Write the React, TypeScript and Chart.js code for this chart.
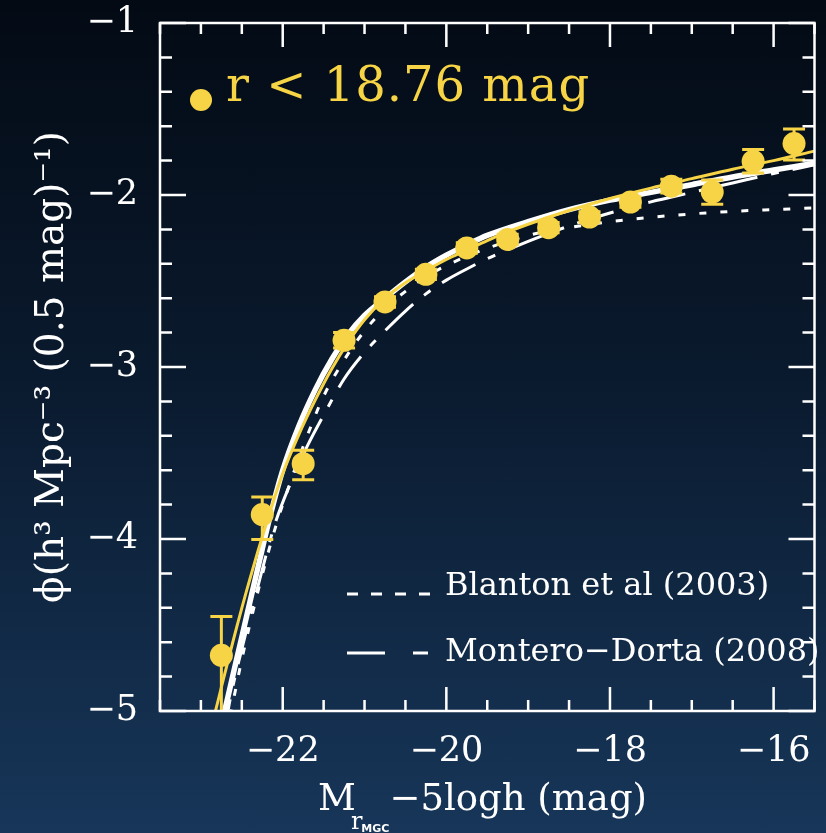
import React, { useEffect, useRef } from 'react';
import { Chart, registerables } from 'chart.js';

Chart.register(...registerables);

const YELLOW = '#f6d445';
const WHITE = '#ffffff';
const FONT = '"DejaVu Serif", serif';

// observed luminosity function (0.5 mag bins)
const binMags = [-22.75, -22.25, -21.75, -21.25, -20.75, -20.25, -19.75, -19.25, -18.75, -18.25, -17.75, -17.25, -16.75, -16.25, -15.75];
const binPhi = [-4.676, -3.858, -3.562, -2.845, -2.622, -2.461, -2.308, -2.258, -2.19, -2.128, -2.041, -1.949, -1.983, -1.804, -1.701];
const errUp = [0.226, 0.102, 0.078, 0.045, 0.03, 0.03, 0.03, 0.03, 0.03, 0.03, 0.03, 0.04, 0.07, 0.068, 0.085];
const errDown = [0.6, 0.145, 0.093, 0.045, 0.03, 0.03, 0.03, 0.03, 0.03, 0.03, 0.03, 0.04, 0.071, 0.068, 0.095];

// yellow fit
const fitMags = [-22.9, -22.78, -22.6, -22.4, -22.2, -22.0, -21.8, -21.6, -21.4, -21.2, -21.0, -20.75, -20.5, -20.25, -20.0, -19.75, -19.5, -19.25, -19.0, -18.5, -18.0, -17.5, -17.0, -16.5, -16.0, -15.5];
const fitPhi = [-5.15, -4.92, -4.58, -4.23, -3.91, -3.62, -3.39, -3.19, -3.01, -2.855, -2.725, -2.6, -2.51, -2.44, -2.375, -2.32, -2.265, -2.215, -2.17, -2.09, -2.02, -1.96, -1.905, -1.85, -1.8, -1.745];

// white solid
const solidMags = [-22.8, -22.7, -22.5, -22.3, -22.15, -22.0, -21.8, -21.6, -21.4, -21.2, -21.0, -20.75, -20.5, -20.25, -20.0, -19.75, -19.5, -19.0, -18.5, -18.0, -17.5, -17.0, -16.5, -16.0, -15.5];
const solidPhi = [-5.19, -4.98, -4.57, -4.16, -3.86, -3.6, -3.34, -3.13, -2.955, -2.81, -2.7, -2.6, -2.505, -2.42, -2.35, -2.29, -2.235, -2.155, -2.085, -2.03, -1.985, -1.94, -1.895, -1.855, -1.815];

// Blanton et al (2003)
const blantonMags = [-22.7, -22.6, -22.5, -22.3, -22.1, -21.9, -21.7, -21.5, -21.25, -21.0, -20.75, -20.5, -20.25, -20.0, -19.5, -19.0, -18.5, -18.0, -17.5, -17.0, -16.5, -16.0, -15.5];
const blantonPhi = [-5.15, -4.93, -4.7, -4.3, -3.95, -3.66, -3.4, -3.17, -2.96, -2.79, -2.66, -2.56, -2.475, -2.41, -2.31, -2.235, -2.19, -2.155, -2.13, -2.11, -2.095, -2.085, -2.075];

// Montero-Dorta (2008)
const monteroMags = [-22.72, -22.65, -22.5, -22.3, -22.1, -21.9, -21.7, -21.5, -21.25, -21.0, -20.75, -20.5, -20.25, -20.0, -19.75, -19.5, -19.0, -18.5, -18.0, -17.5, -17.0, -16.5, -16.0, -15.5];
const monteroPhi = [-5.15, -4.95, -4.64, -4.27, -3.92, -3.67, -3.46, -3.28, -3.07, -2.915, -2.79, -2.675, -2.575, -2.495, -2.43, -2.37, -2.27, -2.18, -2.105, -2.04, -1.985, -1.93, -1.875, -1.825];

const xTickValues = [-22, -20, -18, -16];
const yTickValues = [-5, -4, -3, -2, -1];
const X_MIN = -23.5;
const X_MAX = -15.5;
const Y_MIN = -5;
const Y_MAX = -1;

const toXY = (xs: number[], ys: number[]) => xs.map((x, i) => ({ x, y: ys[i] }));
const fmt = (v: number) => (v < 0 ? '\u2212' + Math.abs(v) : String(v));

const decorPlugin = {
  id: 'decor',
  beforeDatasetDraw(chart: any, args: any) {
    if (args.index !== 0) return;
    const { ctx, chartArea: a, scales } = chart;
    const xs = scales.x;
    const ys = scales.y;
    ctx.save();
    ctx.beginPath();
    ctx.rect(a.left, a.top, a.right - a.left, a.bottom - a.top);
    ctx.clip();
    ctx.strokeStyle = YELLOW;
    ctx.lineWidth = 3;
    ctx.beginPath();
    binMags.forEach((m, i) => {
      const px = xs.getPixelForValue(m);
      const top = ys.getPixelForValue(binPhi[i] + errUp[i]);
      const bot = ys.getPixelForValue(binPhi[i] - errDown[i]);
      ctx.moveTo(px, top);
      ctx.lineTo(px, bot);
      ctx.moveTo(px - 11, top);
      ctx.lineTo(px + 11, top);
      ctx.moveTo(px - 11, bot);
      ctx.lineTo(px + 11, bot);
    });
    ctx.stroke();
    ctx.restore();
  },
  afterDraw(chart: any) {
    const { ctx, chartArea: a, scales } = chart;
    const xs = scales.x;
    const ys = scales.y;
    ctx.save();
    // frame
    ctx.strokeStyle = WHITE;
    ctx.lineWidth = 2.5;
    ctx.strokeRect(a.left, a.top, a.right - a.left, a.bottom - a.top);
    ctx.beginPath();
    const nx = Math.round((X_MAX - X_MIN) / 0.5);
    for (let k = 0; k <= nx; k++) {
      const v = X_MIN + k * 0.5;
      const major = xTickValues.some((t) => Math.abs(t - v) < 1e-6);
      const len = major ? 24 : 11;
      const px = xs.getPixelForValue(v);
      ctx.moveTo(px, a.bottom);
      ctx.lineTo(px, a.bottom - len);
      ctx.moveTo(px, a.top);
      ctx.lineTo(px, a.top + len);
    }
    const ny = Math.round((Y_MAX - Y_MIN) / 0.2);
    for (let k = 0; k <= ny; k++) {
      const v = Y_MIN + k * 0.2;
      const major = yTickValues.some((t) => Math.abs(t - v) < 1e-6);
      const len = major ? 26 : 12;
      const py = ys.getPixelForValue(v);
      ctx.moveTo(a.left, py);
      ctx.lineTo(a.left + len, py);
      ctx.moveTo(a.right, py);
      ctx.lineTo(a.right - len, py);
    }
    ctx.stroke();

    // y title
    ctx.fillStyle = WHITE;
    ctx.save();
    ctx.translate(63, (a.top + a.bottom) / 2);
    ctx.rotate(-Math.PI / 2);
    ctx.textAlign = 'center';
    ctx.textBaseline = 'alphabetic';
    ctx.font = '39px ' + FONT;
    ctx.fillText('\u03d5(h\u00b3 Mpc\u207b\u00b3 (0.5 mag)\u207b\u00b9)', 0, 0);
    ctx.restore();

    // x title
    ctx.textAlign = 'left';
    ctx.textBaseline = 'alphabetic';
    let cx = 318;
    ctx.font = '37px ' + FONT;
    ctx.fillText('M', cx, 810);
    cx += ctx.measureText('M').width - 5;
    ctx.font = '24px ' + FONT;
    ctx.fillText('r', cx, 829);
    cx += ctx.measureText('r').width - 1;
    ctx.font = 'bold 11px "DejaVu Sans", sans-serif';
    ctx.fillText('MGC', cx, 832);
    cx += ctx.measureText('MGC').width;
    ctx.font = '37px ' + FONT;
    ctx.fillText('\u22125logh (mag)', cx, 810);

    // legend top-left
    ctx.fillStyle = YELLOW;
    ctx.beginPath();
    ctx.arc(201, 100, 11, 0, Math.PI * 2);
    ctx.fill();
    ctx.font = '48px ' + FONT;
    (ctx as any).letterSpacing = '1px';
    ctx.fillText('r < 18.76 mag', 226, 101);
    (ctx as any).letterSpacing = '0px';

    // legend bottom-right
    ctx.strokeStyle = WHITE;
    ctx.lineWidth = 3;
    ctx.setLineDash([11, 13]);
    ctx.beginPath();
    ctx.moveTo(347, 594);
    ctx.lineTo(431, 594);
    ctx.stroke();
    ctx.setLineDash([38, 28, 15, 100]);
    ctx.beginPath();
    ctx.moveTo(347, 653);
    ctx.lineTo(428, 653);
    ctx.stroke();
    ctx.setLineDash([]);
    ctx.fillStyle = WHITE;
    ctx.font = '32px ' + FONT;
    ctx.fillText('Blanton et al (2003)', 445, 595);
    ctx.fillText('Montero\u2212Dorta (2008)', 445, 661);
    ctx.restore();
  },
};

export default function App() {
  const ref = useRef<HTMLCanvasElement | null>(null);

  useEffect(() => {
    const canvas = ref.current;
    if (!canvas) return;
    const chart = new Chart(canvas, {
      type: 'scatter',
      data: {
        datasets: [
          {
            label: 'r < 18.76 mag',
            data: toXY(binMags, binPhi),
            showLine: false,
            pointRadius: 11.5,
            pointHoverRadius: 11.5,
            backgroundColor: YELLOW,
            borderWidth: 0,
            order: 0,
          },
          {
            label: 'fit',
            data: toXY(fitMags, fitPhi),
            showLine: true,
            borderColor: YELLOW,
            borderWidth: 3,
            pointRadius: 0,
            cubicInterpolationMode: 'monotone',
            order: 1,
          },
          {
            label: 'solid',
            data: toXY(solidMags, solidPhi),
            showLine: true,
            borderColor: WHITE,
            borderWidth: 5.5,
            pointRadius: 0,
            cubicInterpolationMode: 'monotone',
            order: 2,
          },
          {
            label: 'Blanton et al (2003)',
            data: toXY(blantonMags, blantonPhi),
            showLine: true,
            borderColor: WHITE,
            borderWidth: 3,
            borderDash: [7, 14],
            pointRadius: 0,
            cubicInterpolationMode: 'monotone',
            order: 3,
          },
          {
            label: 'Montero-Dorta (2008)',
            data: toXY(monteroMags, monteroPhi),
            showLine: true,
            borderColor: WHITE,
            borderWidth: 3,
            borderDash: [38, 14, 8, 14],
            pointRadius: 0,
            cubicInterpolationMode: 'monotone',
            order: 4,
          },
        ],
      } as any,
      options: {
        responsive: false,
        animation: false,
        events: [],
        layout: { padding: { top: 23, right: 6, left: 0, bottom: 0 } },
        plugins: {
          legend: { display: false },
          tooltip: { enabled: false },
        },
        scales: {
          x: {
            type: 'linear',
            min: X_MIN,
            max: X_MAX,
            grid: { display: false },
            border: { display: false },
            afterBuildTicks: (s: any) => {
              s.ticks = xTickValues.map((v) => ({ value: v }));
            },
            afterFit: (s: any) => {
              s.height = 122;
              s.paddingLeft = 0;
              s.paddingRight = 0;
            },
            ticks: {
              color: WHITE,
              font: { family: FONT, size: 35 },
              padding: 12,
              maxRotation: 0,
              autoSkip: false,
              callback: (v: any) => fmt(Number(v)),
            },
          },
          y: {
            type: 'linear',
            min: Y_MIN,
            max: Y_MAX,
            grid: { display: false },
            border: { display: false },
            afterBuildTicks: (s: any) => {
              s.ticks = yTickValues.map((v) => ({ value: v }));
            },
            afterFit: (s: any) => {
              s.width = 160;
              s.paddingTop = 0;
              s.paddingBottom = 0;
            },
            ticks: {
              color: WHITE,
              font: { family: FONT, size: 35 },
              padding: 14,
              autoSkip: false,
              callback: (v: any) => fmt(Number(v)),
            },
          },
        },
      } as any,
      plugins: [decorPlugin as any],
    });
    return () => chart.destroy();
  }, []);

  return (
    <div
      style={{
        position: 'fixed',
        left: 0,
        top: 0,
        width: 826,
        height: 833,
        background: 'linear-gradient(to bottom, #030a14 0%, #0a1a2e 45%, #173659 100%)',
      }}
    >
      <canvas ref={ref} width={826} height={833} style={{ display: 'block' }} />
    </div>
  );
}
